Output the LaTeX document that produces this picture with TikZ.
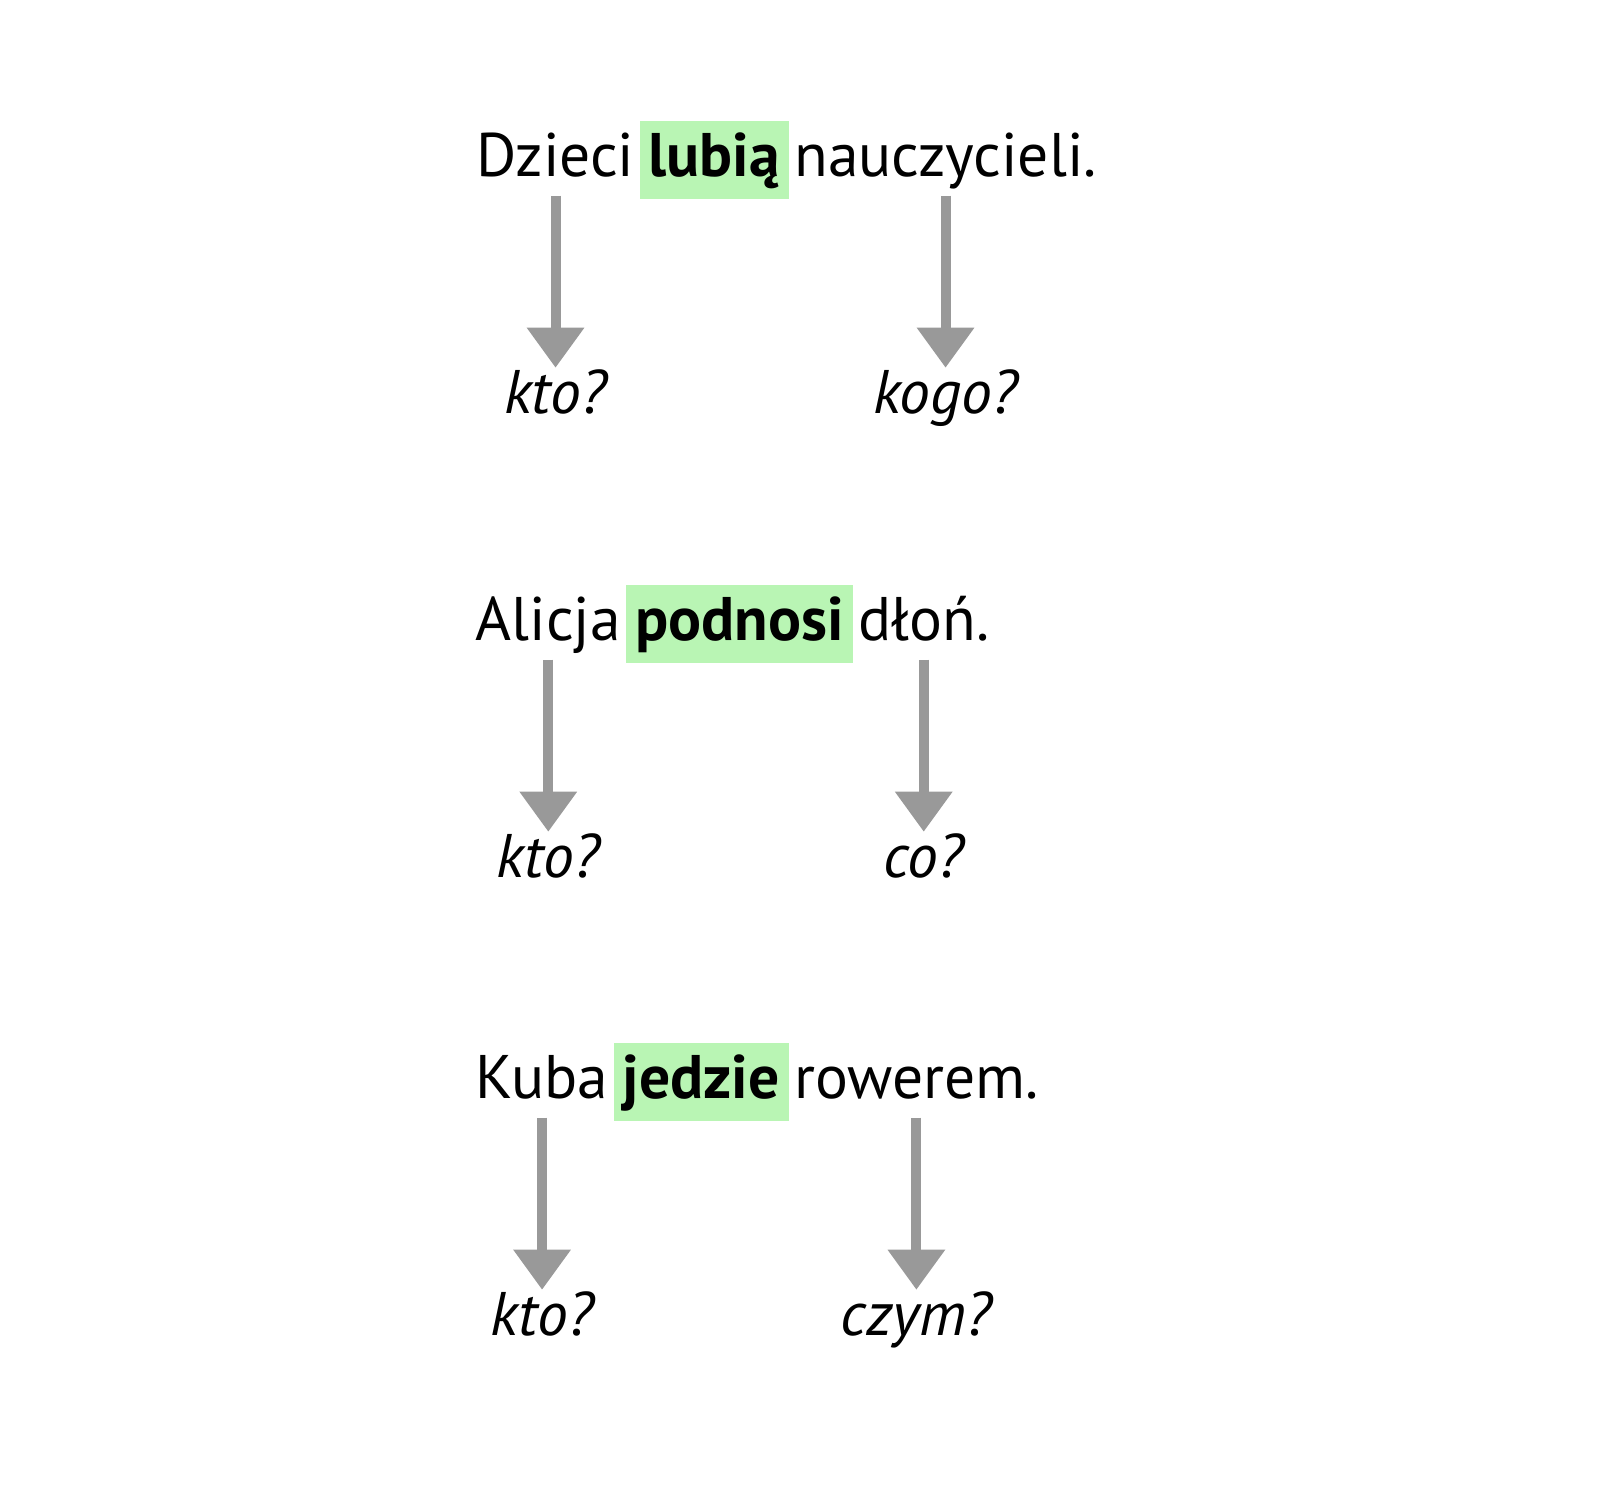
\documentclass[tikz,border=0pt]{standalone}
\usepackage{fontspec}
\setmainfont{PT Sans}
\usepackage{xcolor}
\usepackage{tikz}
\usetikzlibrary{arrows.meta}
\usetikzlibrary{positioning}

\begin{document}
\begin{tikzpicture}[x=0.01cm,y=-0.01cm]
  % Colors
  \definecolor{verbfill}{RGB}{185,245,180}
  \definecolor{arrowgray}{RGB}{153,153,153}
  % Styles
  \tikzstyle{word}=[inner xsep=0pt,inner ysep=0pt,text height=15.65pt,text depth=6.54pt,
    font=\fontsize{17.5}{21}\selectfont,node distance=0.04cm]
  \tikzstyle{verb}=[word,fill=verbfill,inner xsep=0.09cm,font=\fontsize{17.5}{21}\selectfont\bfseries]
  \tikzstyle{question}=[inner sep=0pt,text height=12.8pt,text depth=0pt,
    font=\fontsize{17.5}{21}\selectfont\itshape]
  \tikzstyle{down arrow}=[draw=arrowgray,line width=2.85pt,shorten <=-0.04cm,
    -{Triangle[width=15.6pt,length=11.4pt]}]

  % The graphic
  \useasboundingbox (0,0) rectangle (1600,1484);

  % Dzieci lubia nauczycieli.
  \node[word,anchor=base west] (dzieci) at (476,176) {Dzieci};
  \node[verb,right=of dzieci] (lubia) {lubią};
  \node[word,right=of lubia] (nauczycieli) {nauczycieli.};
  \node[question,below=1.68cm of dzieci] (kto1) {kto?};
  \node[question,below=1.68cm of nauczycieli] (kogo) {kogo?};
  \draw[down arrow] (dzieci.south) -- (kto1.north);
  \draw[down arrow] (nauczycieli.south) -- (kogo.north);

  % Alicja podnosi dlon.
  \node[word,anchor=base west] (alicja) at (475,640) {Alicja};
  \node[verb,right=of alicja] (podnosi) {podnosi};
  \node[word,right=of podnosi] (dlon) {dłoń.};
  \node[question,below=1.68cm of alicja] (kto2) {kto?};
  \node[question,below=1.68cm of dlon] (co) {co?};
  \draw[down arrow] (alicja.south) -- (kto2.north);
  \draw[down arrow] (dlon.south) -- (co.north);

  % Kuba jedzie rowerem.
  \node[word,anchor=base west] (kuba) at (475,1098) {Kuba};
  \node[verb,right=of kuba] (jedzie) {jedzie};
  \node[word,right=of jedzie] (rowerem) {rowerem.};
  \node[question,below=1.68cm of kuba] (kto3) {kto?};
  \node[question,below=1.68cm of rowerem] (czym) {czym?};
  \draw[down arrow] (kuba.south) -- (kto3.north);
  \draw[down arrow] (rowerem.south) -- (czym.north);
\end{tikzpicture}
\end{document}
